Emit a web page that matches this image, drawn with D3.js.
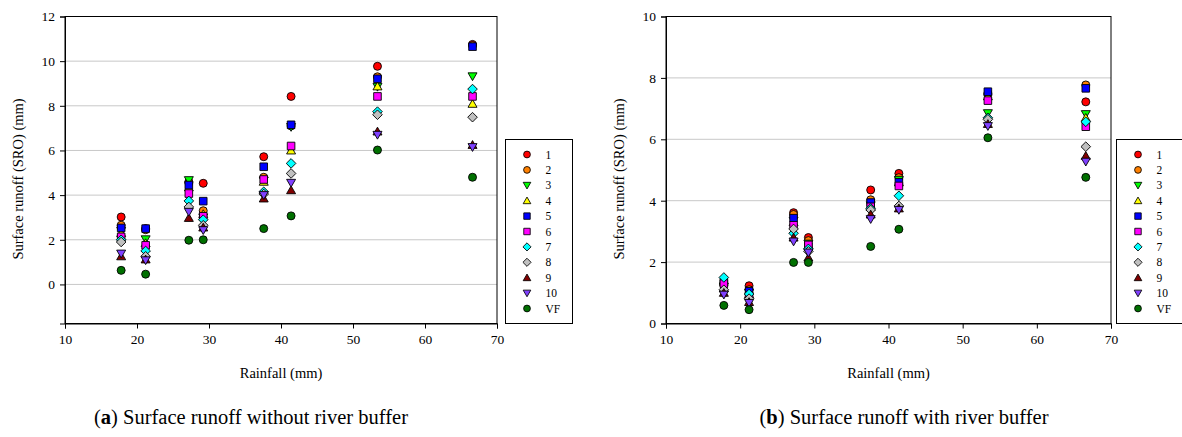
<!DOCTYPE html>
<html>
<head>
<meta charset="utf-8">
<script src="https://cdn.jsdelivr.net/npm/d3@7"></script>
<style>
  body { margin: 0; background: #fff; }
  svg { display: block; }
  svg text { font-family: "Liberation Serif", "Times New Roman", serif !important; fill: #000; }
</style>
</head>
<body>
<svg id="chart" width="1182" height="437"></svg>
<script>
// rainfall events (mm)
const rainfall = [17.8, 21.2, 27.2, 29.2, 37.6, 41.4, 53.4, 66.6];
const seriesNames = ["1", "2", "3", "4", "5", "6", "7", "8", "9", "10", "VF"];

// (a) surface runoff without river buffer (mm)
const a1  = [3.02, 2.50, 4.60, 4.53, 5.72, 8.42, 9.77, 10.75];
const a2  = [2.65, 2.45, 4.55, 3.30, 4.80, 7.10, 9.30, 10.70];
const a3  = [2.40, 2.02, 4.67, 3.00, 4.65, 7.05, 8.85, 9.32];
const a4  = [2.30, 1.85, 4.35, 3.15, 4.60, 6.00, 8.87, 8.09];
const a5  = [2.53, 2.50, 4.45, 3.73, 5.27, 7.15, 9.21, 10.65];
const a6  = [2.13, 1.75, 4.07, 3.05, 4.70, 6.20, 8.42, 8.42];
const a7  = [2.00, 1.50, 3.74, 2.90, 4.15, 5.42, 7.74, 8.75];
const a8  = [1.90, 1.26, 3.47, 2.65, 4.05, 4.97, 7.60, 7.49];
const a9  = [1.26, 1.12, 2.98, 2.55, 3.85, 4.22, 6.85, 6.25];
const a10 = [1.38, 1.08, 3.25, 2.43, 4.00, 4.55, 6.70, 6.15];
const aVF = [0.63, 0.46, 1.98, 2.00, 2.50, 3.07, 6.02, 4.80];

// (b) surface runoff with river buffer (mm)
const b1  = [1.25, 1.23, 3.61, 2.80, 4.35, 4.89, 7.50, 7.22];
const b2  = [1.30, 1.10, 3.55, 2.70, 4.03, 4.75, 7.45, 7.77];
const b3  = [1.20, 1.00, 3.35, 2.60, 3.85, 4.68, 6.85, 6.82];
const b4  = [1.15, 0.95, 3.30, 2.55, 3.80, 4.60, 7.40, 6.70];
const b5  = [1.35, 1.05, 3.43, 2.50, 3.94, 4.60, 7.55, 7.66];
const b6  = [1.30, 0.90, 3.20, 2.56, 3.80, 4.48, 7.26, 6.41];
const b7  = [1.50, 0.96, 2.94, 2.43, 3.75, 4.16, 6.70, 6.57];
const b8  = [1.10, 0.81, 3.08, 2.35, 3.70, 3.83, 6.65, 5.76];
const b9  = [1.00, 0.70, 2.80, 2.15, 3.55, 3.75, 6.50, 5.46];
const b10 = [0.94, 0.67, 2.67, 2.31, 3.40, 3.70, 6.43, 5.27];
const bVF = [0.59, 0.45, 1.99, 1.99, 2.51, 3.07, 6.05, 4.76];

const xTicks = [10, 20, 30, 40, 50, 60, 70];
const yTicksA = [0, 2, 4, 6, 8, 10, 12];
const yTicksB = [0, 2, 4, 6, 8, 10];

const seriesA = [a1, a2, a3, a4, a5, a6, a7, a8, a9, a10, aVF];
const seriesB = [b1, b2, b3, b4, b5, b6, b7, b8, b9, b10, bVF];

// marker style per series
const shapes = ["circle", "circle", "tridown", "triup", "square", "square", "diamond", "diamond", "triup", "tridown", "circle"];
const colors = ["#ff0000", "#ff8000", "#00ff00", "#ffff00", "#0000ff", "#ff00ff", "#00ffff", "#c0c0c0", "#800000", "#8040ff", "#007000"];

const serif = "'Liberation Serif', 'Times New Roman', serif";

function markerPath(shape) {
  switch (shape) {
    case "circle":  return "M4,0A4,4 0 1,1 -4,0A4,4 0 1,1 4,0Z";
    case "square":  return "M-3.8,-3.8H3.8V3.8H-3.8Z";
    case "triup":   return "M0,-4.3L4.5,3.5H-4.5Z";
    case "tridown": return "M0,4.3L4.5,-3.5H-4.5Z";
    case "diamond": return "M0,-4.8L4.8,0L0,4.8L-4.8,0Z";
  }
}

const svg = d3.select("#chart");

function drawPanel(opt) {
  const g = svg.append("g");
  const x = d3.scaleLinear().domain([10, 70]).range([opt.left, opt.right]);
  const y = d3.scaleLinear().domain(opt.yDomain).range([opt.bottom, opt.top]);

  // gridlines
  g.append("g").selectAll("line")
    .data(opt.yTicks.filter(d => d > opt.yDomain[0] && d < opt.yDomain[1]))
    .join("line")
    .attr("x1", opt.left).attr("x2", opt.right)
    .attr("y1", d => y(d)).attr("y2", d => y(d))
    .attr("stroke", "#c8c8c8").attr("stroke-width", 1);

  // frame
  g.append("rect")
    .attr("x", opt.left).attr("y", opt.top)
    .attr("width", opt.right - opt.left).attr("height", opt.bottom - opt.top)
    .attr("fill", "none").attr("stroke", "#000").attr("stroke-width", 1);

  const yAxis = g.append("g")
    .attr("transform", `translate(${opt.left},0)`)
    .call(d3.axisLeft(y).tickValues(opt.yTicks).tickSize(5).tickPadding(5).tickFormat(d3.format("d")));
  const xAxis = g.append("g")
    .attr("transform", `translate(0,${opt.bottom})`)
    .call(d3.axisBottom(x).tickValues(xTicks).tickSize(5).tickPadding(6).tickFormat(d3.format("d")));
  [xAxis, yAxis].forEach(ax => {
    ax.attr("font-family", null);
    ax.select(".domain").attr("stroke", "#000");
    ax.selectAll("line").attr("stroke", "#000");
    ax.selectAll("text").attr("font-size", 13.5).style("font-family", serif);
  });

  // axis titles
  g.append("text")
    .attr("x", (opt.left + opt.right) / 2).attr("y", opt.bottom + 54)
    .attr("text-anchor", "middle").attr("font-size", 14.5)
    .style("font-family", serif)
    .text("Rainfall (mm)");
  g.append("text")
    .attr("transform", `translate(${opt.left - 42},${(opt.top + opt.bottom) / 2 + 9}) rotate(-90)`)
    .attr("text-anchor", "middle").attr("font-size", 14.5)
    .style("font-family", serif)
    .text("Surface runoff (SRO) (mm)");

  // points, series 1 first so VF ends on top
  opt.series.forEach((vals, s) => {
    g.append("g").selectAll("path")
      .data(vals)
      .join("path")
      .attr("d", markerPath(shapes[s]))
      .attr("transform", (d, i) => `translate(${x(rainfall[i])},${y(d)})`)
      .attr("fill", colors[s])
      .attr("stroke", "#000").attr("stroke-width", 0.9);
  });

  // legend
  const lg = g.append("g");
  lg.append("rect")
    .attr("x", opt.legendX).attr("y", 139.5)
    .attr("width", 67).attr("height", 184)
    .attr("fill", "#fff").attr("stroke", "#000").attr("stroke-width", 1);
  seriesNames.forEach((name, s) => {
    const yy = 154.5 + s * 15.4;
    lg.append("path")
      .attr("d", markerPath(shapes[s]))
      .attr("transform", `translate(${opt.legendX + 21.5},${yy}) scale(0.85)`)
      .attr("fill", colors[s]).attr("stroke", "#000").attr("stroke-width", 1);
    lg.append("text")
      .attr("x", opt.legendX + 40).attr("y", yy + 4)
      .attr("font-size", 11.5)
      .style("font-family", serif)
      .text(name);
  });

  // caption
  const cap = svg.append("text")
    .attr("x", opt.captionX).attr("y", 424)
    .attr("text-anchor", "middle")
    .attr("font-size", 20.5)
    .style("font-family", serif);
  cap.append("tspan").text("(");
  cap.append("tspan").attr("font-weight", "bold").text(opt.letter);
  cap.append("tspan").text(") " + opt.caption);
}

drawPanel({
  left: 65, right: 497, top: 16.5, bottom: 323.5,
  yDomain: [-1.75, 12], yTicks: yTicksA,
  series: seriesA, legendX: 505.5,
  captionX: 251, letter: "a", caption: "Surface runoff without river buffer"
});

drawPanel({
  left: 666, right: 1111, top: 16.5, bottom: 323.5,
  yDomain: [0, 10], yTicks: yTicksB,
  series: seriesB, legendX: 1116.5,
  captionX: 904, letter: "b", caption: "Surface runoff with river buffer"
});
</script>
</body>
</html>
